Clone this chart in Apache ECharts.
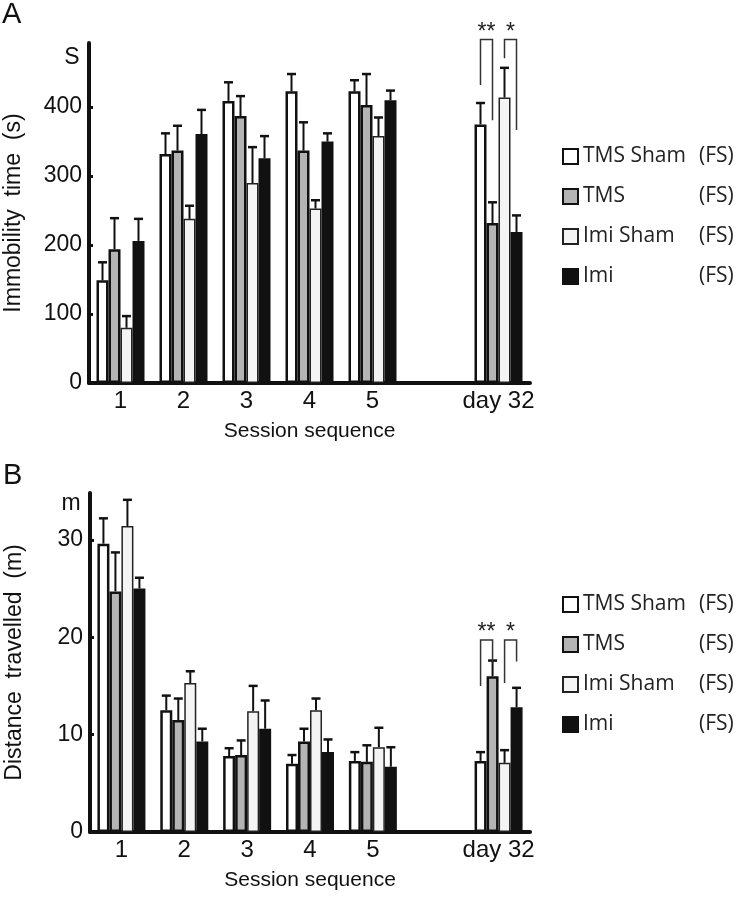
<!DOCTYPE html>
<html>
<head>
  <meta charset="utf-8">
  <title>TMS / Imi</title>
  <style>
    html, body { margin: 0; padding: 0; background: #fff; }
    #chart { width: 743px; height: 900px; }
  </style>
</head>
<body>
  <div id="chart"></div>
  <script src="https://cdn.jsdelivr.net/npm/echarts@6/dist/echarts.min.js"></script>
  <script>
  // categories (empty slot keeps the gap before day 32)
  const sessions = ['1', '2', '3', '4', '5', '', 'day 32'];
  const groups = ['TMS Sham', 'TMS', 'Imi Sham', 'Imi'];

  // A: immobility time (s), mean and top of error bar
  const immTmsSham = [149, 332, 409, 423, 423, null, 375];
  const immTms = [194, 337, 387, 337, 403, null, 232];
  const immImiSham = [80, 238, 290, 253, 358, null, 414];
  const immImi = [206, 361, 326, 350, 410, null, 219];
  const immTmsShamErr = [175, 362, 436, 448, 439, null, 406];
  const immTmsErr = [239, 373, 416, 378, 448, null, 262];
  const immImiShamErr = [97, 257, 342, 265, 385, null, 457];
  const immImiErr = [238, 396, 358, 362, 424, null, 243];

  // B: distance travelled (m)
  const distTmsSham = [29.6, 12.5, 7.8, 7.0, 7.3, null, 7.3];
  const distTms = [24.7, 11.5, 7.9, 9.3, 7.2, null, 16.0];
  const distImiSham = [31.4, 15.3, 12.4, 12.5, 8.7, null, 7.1];
  const distImi = [25.0, 9.3, 10.6, 8.2, 6.7, null, 12.8];
  const distTmsShamErr = [32.2, 14.0, 8.6, 7.9, 8.2, null, 8.2];
  const distTmsErr = [28.7, 13.7, 9.4, 10.6, 8.9, null, 17.6];
  const distImiShamErr = [34.1, 16.5, 15.0, 13.7, 10.7, null, 8.4];
  const distImiErr = [26.1, 10.6, 13.5, 9.5, 8.7, null, 14.8];

  // significance brackets on day 32: [category, left bar, right bar, top, left leg end, right leg end]
  const immBrackets = [[6, 0, 1, 498, 432, 381], [6, 2, 3, 498, 471, 367]];
  const distBrackets = [[6, 0, 1, 19.7, 15.0, 17.4], [6, 2, 3, 19.7, 15.3, 17.5]];
  const starLabels = ['**', '*'];

  const BAR_W = 12;
  const AXIS_FONT = 'Liberation Sans, Arial, sans-serif';

  const barStyles = [
    { color: '#ffffff', borderColor: '#111', borderWidth: 2.5 },
    { color: '#b4b4b4', borderColor: '#111', borderWidth: 2.5 },
    { color: '#f4f4f4', borderColor: '#222', borderWidth: 1.5 },
    { color: '#111111', borderColor: '#111', borderWidth: 2 }
  ];

  function barSeries(values, k, axis) {
    return {
      name: groups[k],
      type: 'bar',
      xAxisIndex: axis,
      yAxisIndex: axis,
      barWidth: BAR_W,
      barGap: '0%',
      itemStyle: barStyles[k],
      emphasis: { disabled: true },
      data: values.map(v => v == null ? '-' : v)
    };
  }

  function errorSeries(means, tops, axis) {
    const items = [];
    tops.forEach((t, k) => {
      t.forEach((v, c) => {
        if (v != null) items.push([c, k, means[k][c], v]);
      });
    });
    return {
      type: 'custom',
      xAxisIndex: axis,
      yAxisIndex: axis,
      z: 5,
      silent: true,
      renderItem: function (params, api) {
        const c = api.value(0), k = api.value(1);
        const base = api.coord([c, api.value(2)]);
        const top = api.coord([c, api.value(3)]);
        const x = base[0] + (k - 1.5) * BAR_W;
        return {
          type: 'group',
          children: [
            { type: 'line', shape: { x1: x, y1: base[1], x2: x, y2: top[1] }, style: { stroke: '#111', lineWidth: 2 } },
            { type: 'line', shape: { x1: x - 4.5, y1: top[1], x2: x + 4.5, y2: top[1] }, style: { stroke: '#111', lineWidth: 2.5 } }
          ]
        };
      },
      data: items
    };
  }

  function bracketSeries(list, axis) {
    return {
      type: 'custom',
      xAxisIndex: axis,
      yAxisIndex: axis,
      z: 6,
      silent: true,
      clip: false,
      renderItem: function (params, api) {
        const c = api.value(0);
        const xl = api.coord([c, 0])[0] + (api.value(1) - 1.5) * BAR_W;
        const xr = api.coord([c, 0])[0] + (api.value(2) - 1.5) * BAR_W;
        const yt = api.coord([c, api.value(3)])[1];
        const yl = api.coord([c, api.value(4)])[1];
        const yr = api.coord([c, api.value(5)])[1];
        return {
          type: 'group',
          children: [
            { type: 'polyline', shape: { points: [[xl, yl], [xl, yt], [xr, yt], [xr, yr]] },
              style: { stroke: '#333', lineWidth: 1.5, fill: null } },
            { type: 'text', x: (xl + xr) / 2, y: yt - 7,
              style: { text: starLabels[params.dataIndex], font: '23px ' + AXIS_FONT,
                       fill: '#222', align: 'center', verticalAlign: 'middle' } }
          ]
        };
      },
      data: list
    };
  }

  function xAxisFor(grid) {
    return {
      type: 'category',
      gridIndex: grid,
      data: sessions,
      axisLine: { lineStyle: { color: '#111', width: 4 } },
      axisTick: { show: false },
      axisLabel: { interval: 0, fontSize: 24, color: '#111', margin: 6, fontFamily: AXIS_FONT },
      name: 'Session sequence',
      nameLocation: 'middle',
      nameGap: 38,
      nameTextStyle: { fontSize: 21, color: '#111', fontFamily: AXIS_FONT }
    };
  }

  function yAxisFor(grid, max, step, title) {
    const marks = [];
    for (let v = 0; v <= max; v += step) marks.push(v);
    return {
      type: 'value',
      gridIndex: grid,
      min: 0,
      max: max,
      interval: step,
      splitLine: { show: false },
      axisLine: { show: true, lineStyle: { color: '#111', width: 4 } },
      axisTick: { show: true, inside: true, length: 4, lineStyle: { width: 3, color: '#111' }, customValues: marks },
      axisLabel: { fontSize: 23, color: '#111', margin: 7, fontFamily: AXIS_FONT, customValues: marks },
      name: title,
      nameLocation: 'middle',
      nameRotate: 90,
      nameGap: 64,
      nameTextStyle: { fontSize: 23, color: '#111', fontFamily: AXIS_FONT }
    };
  }

  function legendFor(top) {
    return {
      orient: 'vertical',
      left: 557,
      top: top,
      icon: 'rect',
      itemWidth: 15,
      itemHeight: 15,
      itemGap: 19,
      selectedMode: false,
      data: groups,
      formatter: name => '{n|' + name + '}{f|(FS)}',
      textStyle: {
        fontFamily: 'Open Sans', fontSize: 21, color: '#222',
        rich: {
          n: { width: 116, fontFamily: 'Open Sans', fontSize: 21, color: '#222' },
          f: { fontFamily: 'Open Sans', fontSize: 21, color: '#222' }
        }
      }
    };
  }

  const immMeans = [immTmsSham, immTms, immImiSham, immImi];
  const immTops = [immTmsShamErr, immTmsErr, immImiShamErr, immImiErr];
  const distMeans = [distTmsSham, distTms, distImiSham, distImi];
  const distTops = [distTmsShamErr, distTmsErr, distImiShamErr, distImiErr];

  const option = {
    backgroundColor: '#fff',
    animation: false,
    grid: [
      { left: 89, top: 43, width: 441, height: 340, outerBoundsMode: 'none' },
      { left: 90, top: 493, width: 440, height: 339, outerBoundsMode: 'none' }
    ],
    xAxis: [xAxisFor(0), xAxisFor(1)],
    yAxis: [
      yAxisFor(0, 493, 100, 'Immobility  time  (s)'),
      yAxisFor(1, 34.8, 10, 'Distance  travelled  (m)')
    ],
    legend: [legendFor(141), legendFor(589)],
    graphic: [
      { type: 'text', left: 2, top: 0, style: { text: 'A', font: '29px ' + AXIS_FONT, fill: '#111' } },
      { type: 'text', left: 3, top: 461, style: { text: 'B', font: '29px ' + AXIS_FONT, fill: '#111' } },
      { type: 'text', x: 72, y: 58, style: { text: 'S', font: '23px ' + AXIS_FONT, fill: '#111', align: 'center', verticalAlign: 'middle' } },
      { type: 'text', x: 71, y: 504, style: { text: 'm', font: '23px ' + AXIS_FONT, fill: '#111', align: 'center', verticalAlign: 'middle' } }
    ],
    series: [
      ...immMeans.map((v, k) => barSeries(v, k, 0)),
      ...distMeans.map((v, k) => barSeries(v, k, 1)),
      errorSeries(immMeans, immTops, 0),
      errorSeries(distMeans, distTops, 1),
      bracketSeries(immBrackets, 0),
      bracketSeries(distBrackets, 1)
    ]
  };

  const chart = echarts.init(document.getElementById('chart'));
  chart.setOption(option);
  </script>
</body>
</html>
